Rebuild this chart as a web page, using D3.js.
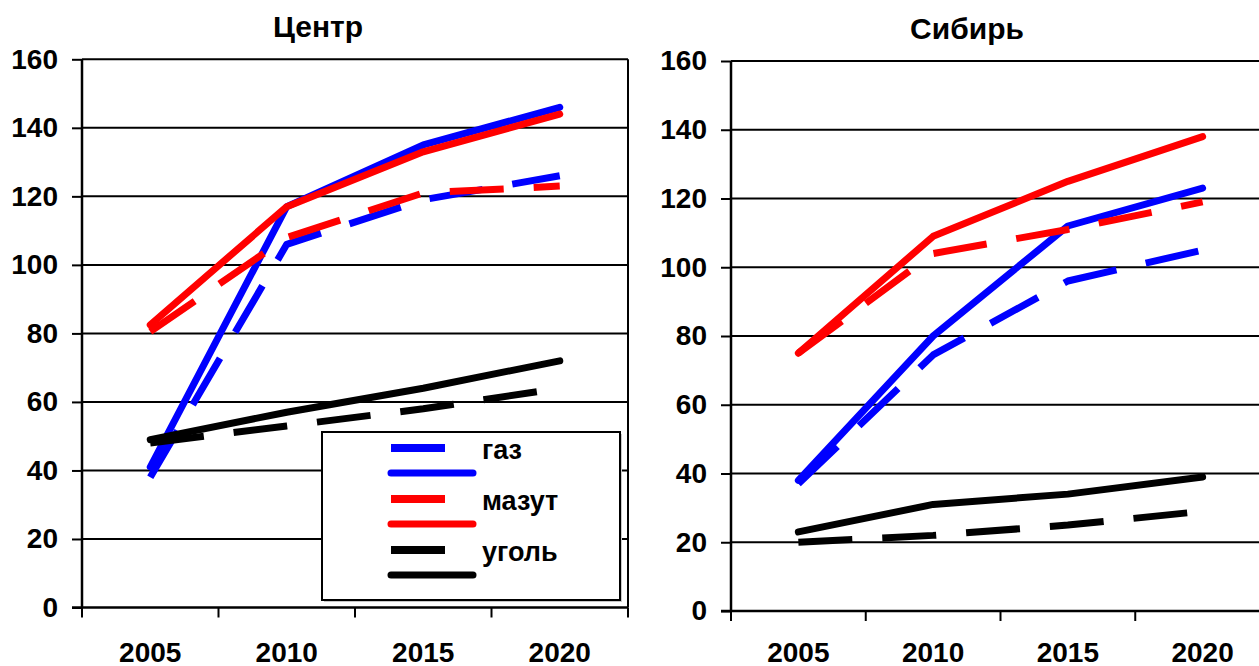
<!DOCTYPE html>
<html lang="ru">
  <head>
    <title>Центр / Сибирь</title>
    <meta charset="utf-8" />
    <script src="https://d3js.org/d3.v7.min.js"></script>
    <style>
      html, body { margin: 0; padding: 0; background: #ffffff; }
      text { font-family: "Liberation Sans", Arial, sans-serif; font-weight: bold; }
    </style>
  </head>
  <body>
    <svg width="1259" height="666" xmlns="http://www.w3.org/2000/svg" id="target"></svg>
    <script>
        // data
        const years = ["2005", "2010", "2015", "2020"];
        const yTicks = [0, 20, 40, 60, 80, 100, 120, 140, 160];
        const fuels = ["газ", "мазут", "уголь"];
        const fuelColors = ["#0000ff", "#ff0000", "#000000"];

        // Центр
        const centerGasDashed   = [38, 106, 119, 126];
        const centerGasSolid    = [41, 117, 135, 146];
        const centerMazutDashed = [80.5, 108, 121, 123];
        const centerMazutSolid  = [82.5, 117, 133, 144];
        const centerCoalDashed  = [48, 53, 58, 64];
        const centerCoalSolid   = [49, 57, 64, 72];

        // Сибирь
        const siberiaGasDashed   = [37, 74.5, 96, 105];
        const siberiaGasSolid    = [38, 80, 112, 123];
        const siberiaMazutDashed = [75, 104, 111, 119];
        const siberiaMazutSolid  = [75, 109, 125, 138];
        const siberiaCoalDashed  = [20, 22, 25, 29];
        const siberiaCoalSolid   = [23, 31, 34, 39];

        const panels = [
          {
            title: "Центр",
            left: 82, right: 628, top: 59.3, bottom: 607.5,
            series: [centerGasDashed, centerGasSolid, centerMazutDashed,
                     centerMazutSolid, centerCoalDashed, centerCoalSolid],
            legend: true
          },
          {
            title: "Сибирь",
            left: 731, right: 1270, top: 61, bottom: 611,
            series: [siberiaGasDashed, siberiaGasSolid, siberiaMazutDashed,
                     siberiaMazutSolid, siberiaCoalDashed, siberiaCoalSolid],
            legend: false
          }
        ];

        const line_def = {
          width: 7,
          dash: "54 30"
        };
        const font_def = {
          tick: 28,
          title: 30,
          legend: 27
        };
        const xlabel_baseline = 661.5;

        const svg = d3.select("#target");

        function drawPanel(p){
          const g = svg.append("g");

          const x = d3.scaleBand()
            .domain(years)
            .range([p.left, p.right])
            .padding(0);
          const y = d3.scaleLinear()
            .domain([0, 160])
            .range([p.bottom, p.top]);

          // gridlines
          g.selectAll("line.grid")
            .data(yTicks.filter(t => t > 0))
            .enter()
            .append("line")
            .attr("class", "grid")
            .attr("x1", p.left)
            .attr("x2", p.right)
            .attr("y1", d => y(d))
            .attr("y2", d => y(d))
            .attr("stroke", "#000")
            .attr("stroke-width", 2);

          // right border
          g.append("line")
            .attr("x1", p.right).attr("x2", p.right)
            .attr("y1", p.top).attr("y2", p.bottom)
            .attr("stroke", "#000")
            .attr("stroke-width", 2);

          // y axis
          const yAxis = d3.axisLeft(y)
            .tickValues(yTicks)
            .tickSize(10)
            .tickPadding(14);
          const ya = g.append("g")
            .attr("transform", "translate(" + p.left + ",0)")
            .call(yAxis);
          ya.select(".domain")
            .attr("d", "M0," + p.top + "V" + p.bottom)
            .attr("stroke-width", 2.5);
          ya.selectAll(".tick line").attr("stroke-width", 2);
          ya.selectAll(".tick text")
            .attr("font-size", font_def.tick)
            .attr("font-family", "Liberation Sans, Arial, sans-serif")
            .attr("font-weight", "bold")
            .attr("fill", "#000");

          // x axis: labels at band centres, ticks at band edges
          g.append("line")
            .attr("x1", p.left - 10).attr("x2", p.right)
            .attr("y1", p.bottom).attr("y2", p.bottom)
            .attr("stroke", "#000")
            .attr("stroke-width", 2.5);
          const edges = years.map(d => x(d)).concat([p.right]);
          g.selectAll("line.xtick")
            .data(edges)
            .enter()
            .append("line")
            .attr("class", "xtick")
            .attr("x1", d => d).attr("x2", d => d)
            .attr("y1", p.bottom).attr("y2", p.bottom + 10)
            .attr("stroke", "#000")
            .attr("stroke-width", 2);
          g.selectAll("text.xlab")
            .data(years)
            .enter()
            .append("text")
            .attr("class", "xlab")
            .attr("x", d => x(d) + x.bandwidth() / 2)
            .attr("y", xlabel_baseline)
            .attr("text-anchor", "middle")
            .attr("font-size", font_def.tick)
            .text(d => d);

          // title
          g.append("text")
            .attr("x", p.left + 236)
            .attr("y", p.top - 22)
            .attr("text-anchor", "middle")
            .attr("font-size", font_def.title)
            .text(p.title);

          // lines
          const line = d3.line()
            .x((d, i) => x(years[i]) + x.bandwidth() / 2)
            .y(d => y(d));
          g.selectAll("path.series")
            .data(p.series)
            .enter()
            .append("path")
            .attr("class", "series")
            .attr("d", d => line(d))
            .attr("fill", "none")
            .attr("stroke", (d, i) => fuelColors[Math.floor(i / 2)])
            .attr("stroke-width", line_def.width)
            .attr("stroke-dasharray", (d, i) => i % 2 === 0 ? line_def.dash : null)
            .attr("stroke-linecap", (d, i) => i % 2 === 0 ? "butt" : "round")
            .attr("stroke-linejoin", "round");

          if (p.legend){
            drawLegend(g);
          }
        }

        function drawLegend(g){
          const lg = g.append("g");
          lg.append("rect")
            .attr("x", 324).attr("y", 434)
            .attr("width", 298).attr("height", 168)
            .attr("fill", "#c8c8c8");
          lg.append("rect")
            .attr("x", 322).attr("y", 432)
            .attr("width", 298).attr("height", 168)
            .attr("fill", "#ffffff")
            .attr("stroke", "#000")
            .attr("stroke-width", 2);

          const items = lg.selectAll("g.item")
            .data(fuels)
            .enter()
            .append("g")
            .attr("class", "item")
            .attr("transform", (d, i) => "translate(0," + (i * 51) + ")");
          items.append("line")
            .attr("x1", 391).attr("x2", 445)
            .attr("y1", 448).attr("y2", 448)
            .attr("stroke", (d, i) => fuelColors[i])
            .attr("stroke-width", line_def.width + 1);
          items.append("line")
            .attr("x1", 391).attr("x2", 473)
            .attr("y1", 473).attr("y2", 473)
            .attr("stroke", (d, i) => fuelColors[i])
            .attr("stroke-width", line_def.width)
            .attr("stroke-linecap", "round");
          items.append("text")
            .attr("x", 482)
            .attr("y", 459)
            .attr("font-size", font_def.legend)
            .text(d => d);
        }

        panels.forEach(drawPanel);
    </script>
</body>
</html>
